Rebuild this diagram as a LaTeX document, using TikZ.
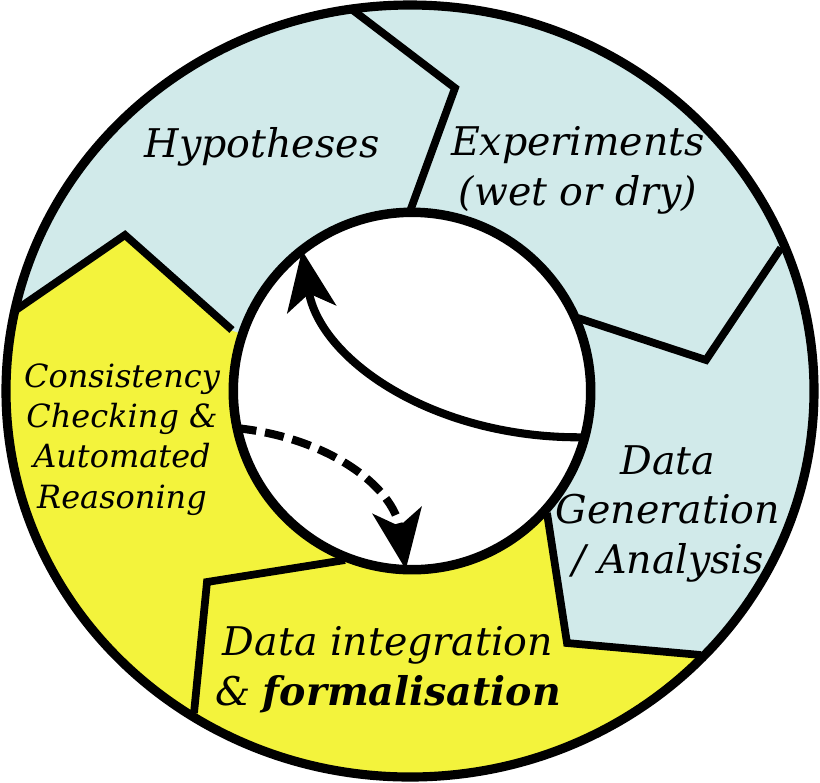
\documentclass[tikz,border=0pt]{standalone}
\usepackage{fontspec}
\setmainfont{DejaVu Serif}
\usetikzlibrary{arrows.meta}
\definecolor{paleblue}{HTML}{D1EAEA}
\definecolor{lemon}{HTML}{F3F33C}

\begin{document}
\begin{tikzpicture}[x=0.02cm,y=-0.02cm,
    wall/.style={line width=4.4pt},
    flow/.style={line width=4.6pt,-{Stealth[length=34pt,width=28pt,inset=9pt]}},
    big/.style={font=\fontsize{22.5}{28}\selectfont\itshape,align=center,anchor=base},
    small/.style={font=\fontsize{18.2}{22.8}\selectfont\itshape,align=center,anchor=base}]
\fill[white] (0,0) rectangle (820,782);
\useasboundingbox (0,0) rectangle (820,782);
\coordinate (O) at (410,391);
\fill[paleblue] (O) ellipse [x radius=405, y radius=387];
\begin{scope}
\clip (O) ellipse [x radius=405, y radius=387];
\fill[lemon] (-20,335) -- (125,235) -- (230,330) -- (O) -- (547,513) -- (567,643)
    -- (740,659) -- (740,800) -- (-20,800) -- cycle;
\end{scope}
\draw[wall] (350,8) -- (455,88) -- (409,214);
\draw[wall] (13,312) -- (125,235) -- (232,330);
\draw[wall] (781,248) -- (706,360) -- (578,318);
\draw[wall] (547,513) -- (567,643) -- (701,655);
\draw[wall] (345,560) -- (207,582) -- (194,713);
\draw[line width=5.2pt] (O) ellipse [x radius=404, y radius=386];
\node[circle,draw,fill=white,line width=5.4pt,minimum size=7.15cm,inner sep=0pt,outer sep=0pt]
    (core) at (412,391) {};
\draw[flow] (core.-15) .. controls +(-150,2) and +(18,110) .. (core.128);
\draw[flow,dash pattern=on 11pt off 5pt] (core.192) .. controls +(93,10) and +(-12,-82) .. (core.268);
\node[big] (hyp) at (262,157) {Hypotheses};
\node[big] (exp) at (578,205) {Experiments\\(wet or dry)};
\node[small] (cons) at (122,508) {Consistency\\Checking \&\\Automated\\Reasoning};
\node[big] (gen) at (668,573) {Data\\Generation\\/ Analysis};
\node[big] (integ) at (388,705) {Data integration\\\& \textbf{formalisation}};
\end{tikzpicture}
\end{document}
